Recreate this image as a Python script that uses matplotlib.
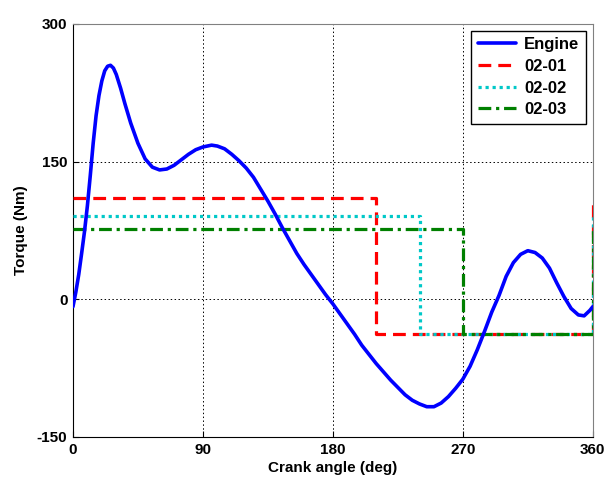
import matplotlib
matplotlib.use("Agg")
import matplotlib.pyplot as plt

plt.rcParams['font.family'] = ['Liberation Sans', 'DejaVu Sans']
plt.rcParams['font.weight'] = 'bold'
plt.rcParams['axes.unicode_minus'] = False

# Engine torque over one crankshaft revolution
crank_deg = [0, 2, 4, 6, 8, 10, 12, 14, 16, 18, 20, 22, 24, 26, 28, 30, 33, 36, 40,
             45, 50, 55, 60, 65, 70, 75, 80, 85, 90, 96, 100, 105, 110, 115, 120,
             125, 130, 135, 140, 145, 150, 155, 160, 165, 170, 175, 180, 185, 190,
             195, 200, 205, 210, 215, 220, 225, 230, 235, 240, 245, 250, 255, 260,
             265, 270, 275, 280, 285, 290, 295, 300, 305, 310, 315, 320, 325, 330,
             335, 340, 345, 350, 354, 358, 360]
engine_torque = [-8, 8, 27, 50, 74, 102, 135, 170, 200, 222, 238, 249, 254, 255, 252,
                 245, 230, 213, 192, 170, 153, 144, 141, 142, 146, 152, 158, 163, 166,
                 168, 167, 164, 158, 151, 143, 133, 120, 107, 93, 78, 64, 50, 38, 27,
                 16, 5, -5, -16, -27, -38, -50, -60, -70, -79, -88, -96, -104, -110,
                 -114, -117, -117, -113, -106, -97, -87, -73, -55, -35, -14, 4, 25, 40,
                 49, 53, 51, 45, 34, 18, 3, -10, -17, -18, -12, -8]

# Two-level approximations of the torque curve
series_names = ['02-01', '02-02', '02-03']
high_levels = [110, 91, 77]
low_levels = [-38, -38, -38]
switch_angles = [210, 240, 270]
series_colors = ['#ff0000', '#00c8c8', '#008000']
series_styles = [(0, (4, 2.2)), (0, (1, 1.2)), (0, (4, 1.5, 1, 1.5))]

fig = plt.figure(figsize=(6.08, 4.8), dpi=100)
ax = fig.add_axes([0.120, 0.0896, 0.855, 0.8604])

ax.plot(crank_deg, engine_torque, color='#0000ff', lw=2.6, label='Engine', zorder=4,
        solid_joinstyle='round', solid_capstyle='round')
for name, hi, lo, sw, col, ls in zip(series_names, high_levels, low_levels,
                                     switch_angles, series_colors, series_styles):
    xs = [0, sw, sw, 360, 360]
    ys = [hi, hi, lo, lo, hi]
    ax.plot(xs, ys, color=col, lw=2.3, linestyle=ls, label=name, zorder=3)

ax.set_xlim(0, 360)
ax.set_ylim(-150, 300)
ax.set_xticks([0, 90, 180, 270, 360])
ax.set_yticks([-150, 0, 150, 300])
ax.grid(True, color='black', linestyle=(0, (1.5, 2.5)), linewidth=0.7)
ax.tick_params(direction='in', length=4, labelsize=11, pad=4)
for lbl in ax.get_xticklabels() + ax.get_yticklabels():
    lbl.set_fontweight('bold')
for side in ['top', 'right']:
    ax.spines[side].set_color('#808080')
for side in ['left', 'bottom']:
    ax.spines[side].set_color('black')

ax.set_xlabel('Crank angle (deg)', fontsize=11, fontweight='bold', labelpad=3)
ax.set_ylabel('Torque (Nm)', fontsize=11, fontweight='bold', labelpad=6)

leg = ax.legend(loc='upper right', fontsize=12, handlelength=2.3, fancybox=False,
                edgecolor='black', framealpha=1, borderpad=0.4, labelspacing=0.4,
                handletextpad=0.5, borderaxespad=0.4)
leg.get_frame().set_linewidth(1.0)
for t in leg.get_texts():
    t.set_fontweight('bold')

fig.savefig('out.png', dpi=100)
